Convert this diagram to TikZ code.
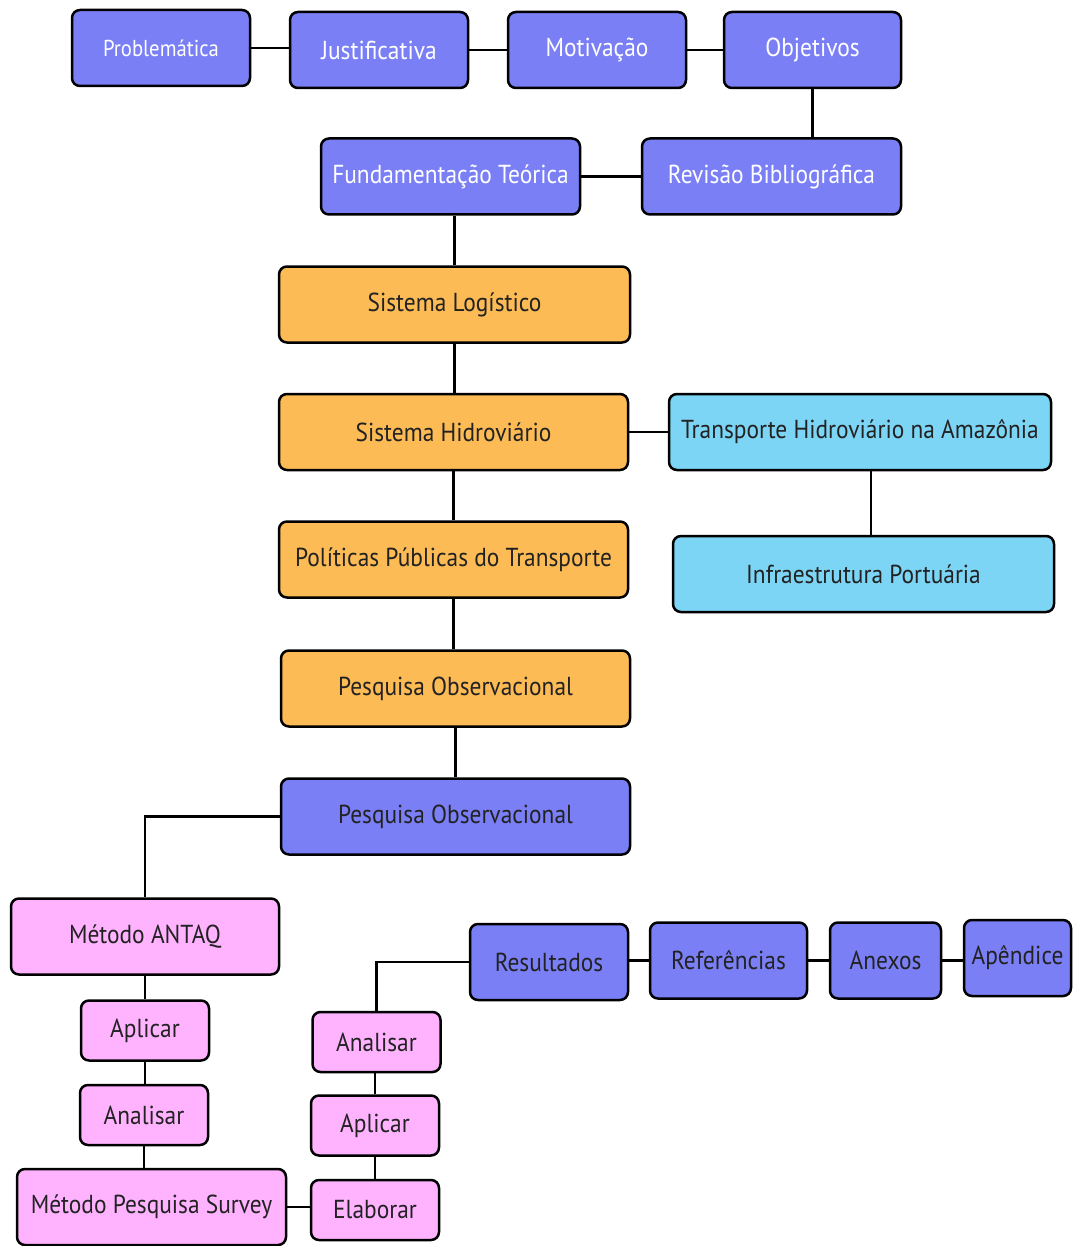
\documentclass[tikz,border=0pt]{standalone}
\usepackage{fontspec}
\setmainfont{PT Sans}[FakeStretch=0.9]
\usepackage{tikz}
\usetikzlibrary{positioning}
\definecolor{boxblue}{HTML}{7A7FF5}
\definecolor{boxorange}{HTML}{FDBB55}
\definecolor{boxcyan}{HTML}{7DD5F5}
\definecolor{boxpink}{HTML}{FFB3FF}
\definecolor{textdark}{HTML}{222222}
\tikzset{
  box/.style={draw=black, line width=1.25pt, rounded corners=4pt, inner sep=2pt,
              font=\fontsize{13}{15}\selectfont, text=textdark, align=center},
  wide/.style={minimum width=#1, minimum height=38pt},
  small/.style={minimum width=64pt, minimum height=30pt},
  blue/.style={box, fill=boxblue},
  blueW/.style={box, fill=boxblue, text=white},
  orange/.style={box, fill=boxorange},
  cyan/.style={box, fill=boxcyan},
  pink/.style={box, fill=boxpink},
  link/.style={line width=1.2pt, draw=black},
}

\begin{document}
\begin{tikzpicture}[x=0.5pt, y=-0.5pt]
  \useasboundingbox (0,0) rectangle (1073,1246);

  % top row
  \node[blueW, wide=89pt, font=\fontsize{11.5}{14}\selectfont] (prob) at (161,48) {Problemática};
  \node[blueW, wide=89pt] (just) at (379,50) {Justificativa};
  \node[blueW, wide=89pt] (moti) at (597,50) {Motivação};
  \node[blueW, wide=88.5pt] (obje) at (812.5,50) {Objetivos};
  \node[blueW, wide=129.5pt] (revi) at (771.5,176.5) {Revisão Bibliográfica};
  \node[blueW, wide=129.5pt] (fund) at (450.5,176.5) {Fundamentação Teórica};

  \node[orange, wide=175.5pt] (slog) at (454.5,304.5) {Sistema Logístico};
  \node[orange, wide=174.5pt] (shid) at (453.5,432) {Sistema Hidroviário};
  \node[cyan, wide=191pt] (tham) at (860,432) {Transporte Hidroviário na Amazônia};
  \node[cyan, wide=190.5pt] (infr) at (863.5,574) {Infraestrutura Portuária};
  \node[orange, wide=174.5pt] (polt) at (453.5,559.5) {Políticas Públicas do Transporte};
  \node[orange, wide=174.5pt] (pobsA) at (455.5,688.5) {Pesquisa Observacional};
  \node[blue, wide=174.5pt] (pobsB) at (455.5,816.5) {Pesquisa Observacional};

  \node[pink, wide=134pt] (antaq) at (145,936.5) {Método ANTAQ};
  \node[pink, small] (aplA) at (145,1030.5) {Aplicar};
  \node[pink, small] (anaA) at (144,1115) {Analisar};
  \node[pink, wide=134.5pt] (surv) at (151.5,1207) {Método Pesquisa Survey};
  \node[pink, small] (elab) at (375,1210) {Elaborar};
  \node[pink, small] (aplB) at (375,1125.5) {Aplicar};
  \node[pink, small] (anaB) at (376.5,1042) {Analisar};

  \node[blue, wide=79pt] (resu) at (549,962) {Resultados};
  \node[blue, wide=78.5pt] (refe) at (728.5,960.5) {Referências};
  \node[blue, wide=55.5pt] (anex) at (885.5,960.5) {Anexos};
  \node[blue, wide=53.5pt] (apen) at (1017.5,958) {Apêndice};

  \draw[link] (prob.east) -- (prob.east -| just.west);
  \draw[link] (just.east) -- (moti.west);
  \draw[link] (moti.east) -- (obje.west);
  \draw[link] (obje.south) -- (obje.south |- revi.north);
  \draw[link] (revi.west) -- (fund.east);
  \draw[link] (fund.south -| slog.north) -- (slog.north);
  \draw[link] (slog.south) -- (shid.north -| slog.south);
  \draw[link] (shid.south) -- (polt.north);
  \draw[link] (polt.south) -- (pobsA.north -| polt.south);
  \draw[link] (pobsA.south) -- (pobsB.north);
  \draw[link] (shid.east) -- (tham.west);
  \draw[link] ([xshift=5.5pt]tham.south) -- ([xshift=5.5pt]tham.south |- infr.north);
  \draw[link] (pobsB.west) -| (antaq.north);
  \draw[link] (antaq.south) -- (aplA.north);
  \draw[link] (aplA.south) -- (anaA.north -| aplA.south);
  \draw[link] (anaA.south) -- (surv.north -| anaA.south);
  \draw[link] (surv.east) -- (surv.east -| elab.west);
  \draw[link] (elab.north) -- (aplB.south);
  \draw[link] (aplB.north) -- (anaB.south -| aplB.north);
  \draw[link] (resu.west) -| (anaB.north);
  \draw[link] (refe.west -| resu.east) -- (refe.west);
  \draw[link] (refe.east) -- (anex.west);
  \draw[link] (anex.east) -- (anex.east -| apen.west);
\end{tikzpicture}
\end{document}
